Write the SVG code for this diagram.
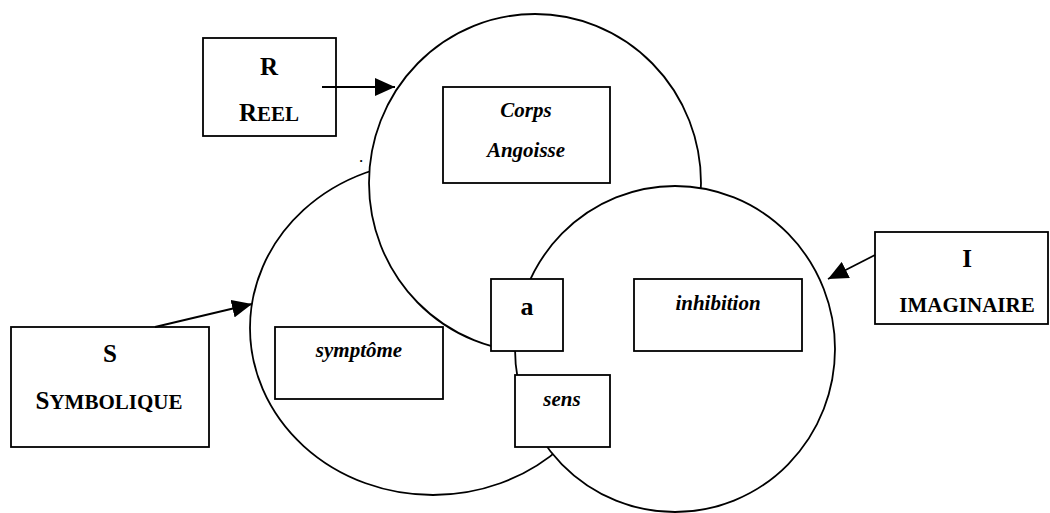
<svg xmlns="http://www.w3.org/2000/svg" width="1050" height="513" viewBox="0 0 1050 513">
  <style>
    .ring { fill: #ffffff; stroke: #000000; stroke-width: 1.8; }
    .box { fill: #ffffff; stroke: #000000; stroke-width: 1.8; }
    .lbl { font-family: "Liberation Serif", "Times New Roman", serif; font-weight: bold; fill: #000000; text-anchor: middle; }
    .big { font-size: 25px; }
    .sm { font-size: 21px; }
    .it { font-family: "Liberation Serif", "Times New Roman", serif; font-weight: bold; font-style: italic; font-size: 21px; fill: #000000; text-anchor: middle; }
    .conn { stroke: #000000; stroke-width: 1.8; fill: none; }
  </style>
  <defs>
    <marker id="arrow" markerUnits="userSpaceOnUse" markerWidth="20" markerHeight="18" refX="20" refY="9" orient="auto">
      <path d="M0,0 L20,9 L0,18 Z" fill="#000000"/>
    </marker>
  </defs>
  <rect x="0" y="0" width="1050" height="513" fill="#ffffff"/>

  <g id="ring-symbolique">
    <ellipse class="ring" cx="433" cy="328" rx="183" ry="167"/>
  </g>
  <g id="ring-reel">
    <ellipse class="ring" cx="535" cy="183" rx="166" ry="169"/>
  </g>
  <g id="ring-imaginaire">
    <ellipse class="ring" cx="675" cy="349" rx="160" ry="163"/>
  </g>

  <text class="lbl" x="361" y="162" style="font-size:13px">.</text>

  <g id="node-reel">
    <rect class="box" x="203" y="38" width="133" height="98"/>
    <text class="lbl big" x="269" y="75">R</text>
    <text class="lbl" x="269" y="121"><tspan class="big">R</tspan><tspan class="sm">EEL</tspan></text>
  </g>

  <g id="node-symbolique">
    <rect class="box" x="11" y="327" width="198" height="120"/>
    <text class="lbl big" x="110" y="362">S</text>
    <text class="lbl" x="109" y="409"><tspan class="big">S</tspan><tspan class="sm">YMBOLIQUE</tspan></text>
  </g>

  <g id="node-imaginaire">
    <rect class="box" x="875" y="232" width="173" height="92"/>
    <text class="lbl big" x="967" y="267">I</text>
    <text class="lbl sm" x="967" y="312">IMAGINAIRE</text>
  </g>

  <g id="node-corps">
    <rect class="box" x="443" y="87" width="167" height="96"/>
    <text class="it" x="526" y="117">Corps</text>
    <text class="it" x="526" y="157">Angoisse</text>
  </g>

  <g id="node-symptome">
    <rect class="box" x="275" y="327" width="168" height="72"/>
    <text class="it" x="359" y="357">symptôme</text>
  </g>

  <g id="node-a">
    <rect class="box" x="491" y="279" width="72" height="72"/>
    <text class="lbl" x="527" y="315" style="font-size:26px">a</text>
  </g>

  <g id="node-sens">
    <rect class="box" x="515" y="375" width="95" height="72"/>
    <text class="it" x="562" y="406">sens</text>
  </g>

  <g id="node-inhibition">
    <rect class="box" x="634" y="279" width="168" height="72"/>
    <text class="it" x="718" y="310">inhibition</text>
  </g>

  <g id="connectors">
    <line class="conn" x1="322" y1="87" x2="395" y2="87" marker-end="url(#arrow)"/>
    <line class="conn" x1="155" y1="327" x2="252" y2="304" marker-end="url(#arrow)"/>
    <line class="conn" x1="875" y1="255" x2="828" y2="279" marker-end="url(#arrow)"/>
  </g>
</svg>
